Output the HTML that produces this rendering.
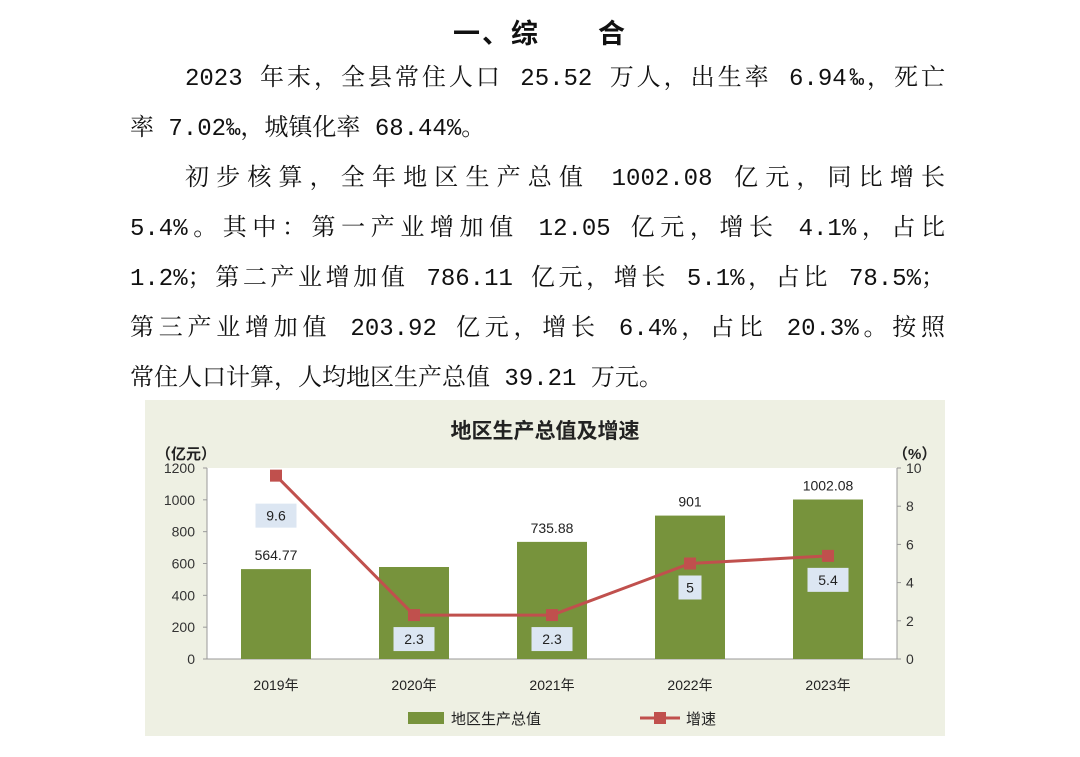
<!DOCTYPE html>
<html><head><meta charset="utf-8">
<style>
body{margin:0;width:1080px;height:757px;background:#fff;overflow:hidden;position:relative;font-family:"Liberation Mono","Noto Serif CJK SC",serif;color:#111}
.t{position:absolute;left:0;width:1080px;text-align:center;top:12px;font-size:27px;font-weight:bold;font-family:"Liberation Sans","Noto Sans CJK SC",sans-serif;letter-spacing:2px}
.l{position:absolute;font-size:24px;line-height:30px;white-space:nowrap}
.j{text-align:justify;text-align-last:justify;white-space:normal}
#chart{position:absolute;left:0;top:0}
</style></head><body>
<div class="t">一、综　　合</div>
<div class="l j" style="left:185px;top:65px;width:760px">2023 年末，全县常住人口 25.52 万人，出生率 6.94‰，死亡</div>
<div class="l" style="left:130px;top:115px">率 7.02‰，城镇化率 68.44%。</div>
<div class="l j" style="left:185px;top:165px;width:760px">初步核算，全年地区生产总值 1002.08 亿元，同比增长</div>
<div class="l j" style="left:130px;top:215px;width:815px">5.4%。其中：第一产业增加值 12.05 亿元，增长 4.1%，占比</div>
<div class="l j" style="left:130px;top:265px;width:815px">1.2%；第二产业增加值 786.11 亿元，增长 5.1%，占比 78.5%；</div>
<div class="l j" style="left:130px;top:315px;width:815px">第三产业增加值 203.92 亿元，增长 6.4%，占比 20.3%。按照</div>
<div class="l" style="left:130px;top:365px">常住人口计算，人均地区生产总值 39.21 万元。</div>
<svg id="chart" width="1080" height="757" font-family="Liberation Sans, Noto Sans CJK SC, sans-serif">
<rect x="145" y="400" width="800" height="336" fill="#eef0e3"/>
<rect x="207" y="468" width="690" height="191" fill="#fff"/>
<text x="545" y="438" text-anchor="middle" font-size="21" font-weight="bold" fill="#222">地区生产总值及增速</text>
<text x="156" y="459" font-size="15" font-weight="bold" fill="#222">（亿元）</text>
<text x="893" y="459" font-size="15" font-weight="bold" fill="#222">（%）</text>
<g id="g"></g>
</svg>
<script>
const categories=["2019年","2020年","2021年","2022年","2023年"];
const gdp=[564.77,578,735.88,901,1002.08];
const gdpLabels=["564.77","","735.88","901","1002.08"];
const growth=[9.6,2.3,2.3,5,5.4];
const leftTicks=[0,200,400,600,800,1000,1200];
const rightTicks=[0,2,4,6,8,10];
const NS="http://www.w3.org/2000/svg";
const g=document.getElementById('g');
const X0=207,X1=897,Y0=659,Y1=468;
const band=(X1-X0)/categories.length;
const xc=i=>X0+band*(i+0.5);
const yl=v=>Y0-(v/1200)*(Y0-Y1);
const yr=v=>Y0-(v/10)*(Y0-Y1);
function mk(t,a){const e=document.createElementNS(NS,t);for(const k in a)e.setAttribute(k,a[k]);g.appendChild(e);return e;}
let ax=mk('path',{d:`M${X0} ${Y1}V${Y0}H${X1}V${Y1}`,stroke:'#999',fill:'none'});


leftTicks.forEach(v=>{const t=mk('text',{x:X0-12,y:yl(v)+5,'text-anchor':'end','font-size':14,fill:'#333'});t.textContent=v;


mk('line',{x1:X0-4,x2:X0,y1:yl(v),y2:yl(v),stroke:'#999'});});
rightTicks.forEach(v=>{const t=mk('text',{x:X1+9,y:yr(v)+5,'font-size':14,fill:'#333'});t.textContent=v;


mk('line',{x1:X1,x2:X1+4,y1:yr(v),y2:yr(v),stroke:'#999'});});
categories.forEach((c,i)=>{
const b=mk('rect',{x:xc(i)-35,y:yl(gdp[i]),width:70,height:Y0-yl(gdp[i]),fill:'#77933c'});


if(gdpLabels[i]){const t=mk('text',{x:xc(i),y:yl(gdp[i])-9,'text-anchor':'middle','font-size':14,fill:'#222'});t.textContent=gdpLabels[i];

}
const x=mk('text',{x:xc(i),y:690,'text-anchor':'middle','font-size':14,fill:'#222'});x.textContent=c;


});
const ln=mk('polyline',{points:growth.map((v,i)=>xc(i)+','+yr(v)).join(' '),fill:'none',stroke:'#c0504d','stroke-width':3});


growth.forEach((v,i)=>{
const m=mk('rect',{x:xc(i)-6,y:yr(v)-6,width:12,height:12,fill:'#c0504d'});


const ly=i===0?yr(v)+40:yr(v)+24;
const s=String(v);const w=s.length*9+14;
const bx=mk('rect',{x:xc(i)-w/2,y:ly-12,width:w,height:24,fill:'#dce6f2'});


const t=mk('text',{x:xc(i),y:ly+5,'text-anchor':'middle','font-size':14,fill:'#222'});t.textContent=s;


});
const lb=mk('rect',{x:408,y:712,width:36,height:12,fill:'#77933c'});


const lt=mk('text',{x:451,y:724,'font-size':15,fill:'#222'});lt.textContent='地区生产总值';


const ll=mk('line',{x1:640,x2:680,y1:718,y2:718,stroke:'#c0504d','stroke-width':3});


mk('rect',{x:654,y:712,width:12,height:12,fill:'#c0504d'});
const lt2=mk('text',{x:686,y:724,'font-size':15,fill:'#222'});lt2.textContent='增速';


</script>
</body></html>
